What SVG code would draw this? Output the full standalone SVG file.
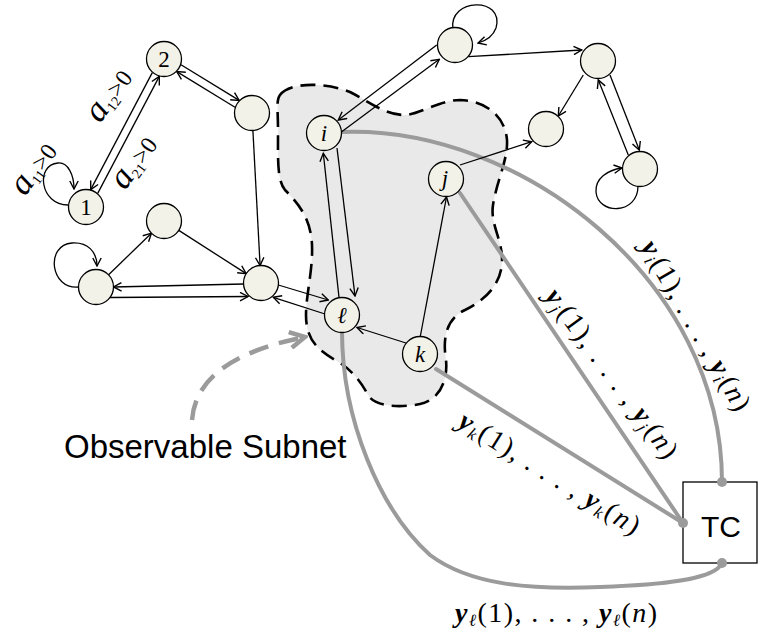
<svg xmlns="http://www.w3.org/2000/svg" width="760" height="634" viewBox="0 0 760 634">
<style>
.node circle { fill:#f3f2e9; stroke:#000; stroke-width:1.3; }
.nl { font-family:"Liberation Serif","DejaVu Serif",serif; font-size:23px; text-anchor:middle; fill:#000; }
.e { fill:none; stroke:#000; stroke-width:1.3; marker-end:url(#ah); }
.g { fill:none; stroke:#9b9b9b; stroke-width:4; stroke-linecap:round; }
.m { font-family:"Liberation Serif","DejaVu Serif",serif; font-size:28px; fill:#000; }
.b { font-weight:bold; font-style:italic; }
.it { font-style:italic; }
.sub { font-style:italic; font-size:17px; }
.sans { font-family:"Liberation Sans",Arial,sans-serif; fill:#000; }
</style>
<defs>
<marker id="ah" viewBox="0 0 10 10" refX="9" refY="5" markerWidth="10" markerHeight="10" markerUnits="userSpaceOnUse" orient="auto">
<path d="M1,0.8 L9,5 L1,9.2" fill="none" stroke="#000" stroke-width="1.4"/>
</marker>
<marker id="gah" viewBox="0 0 20 20" refX="17" refY="10" markerWidth="20" markerHeight="20" markerUnits="userSpaceOnUse" orient="auto">
<path d="M2,2 L17,10 L2,18" fill="none" stroke="#9b9b9b" stroke-width="4.5"/>
</marker>
</defs>
<rect width="760" height="634" fill="#fff"/>

<g id="subnet">
<path d="M280,95 C290,82 325,82 350,92 C370,102 385,115 405,115 C420,114 440,100 460,100 C485,101 505,115 507,140 C508,160 497,180 493,205 C490,225 503,240 502,262 C501,285 485,300 465,310 C448,318 442,335 446,360 C448,380 440,400 420,404 C400,408 375,407 368,395 C360,380 350,368 335,360 C318,350 306,340 306,315 C306,295 313,270 312,245 C311,220 300,205 285,190 C277,180 278,160 278,130 C278,110 276,100 280,95 Z" fill="#e9e9e9" stroke="#000" stroke-width="2.6" stroke-dasharray="15 8"/>
</g>

<g id="connectors">
<path class="g" d="M341,132 C520,125 722,280 722,482"/>
<path class="g" d="M460,193 L683,523"/>
<path class="g" d="M436,369 L683,523"/>
<path class="g" d="M342,331 C342,420 380,510 430,555 C470,585 530,590 600,587 C660,585 715,580 722,563"/>
<path d="M192,420 C195,380 230,352 305,337" fill="none" stroke="#9b9b9b" stroke-width="4.5" stroke-dasharray="20 11" marker-end="url(#gah)"/>

<path class="e" d="M97.7,193.4 L159.3,76.4"/>
<path class="e" d="M152.3,72.6 L90.7,189.6"/>
<path class="e" d="M68,205 C40,205 35,165 58,163 C68,162 74,175 74,189"/>
<path class="e" d="M181,64.8 L239.2,100.4"/>
<path class="e" d="M235,107.2 L176.8,71.6"/>
<path class="e" d="M252.9,130.5 L260.1,265.5"/>
<path class="e" d="M178.8,230.4 L246.2,273.6"/>
<path class="e" d="M108.6,274.8 L151.4,233.2"/>
<path class="e" d="M79,287 C50,290 45,245 72,243 C88,242 97,252 97,266"/>
<path class="e" d="M243.5,284 L113.5,287"/>
<path class="e" d="M110,297.5 L248,296.5"/>
<path class="e" d="M278.3,285 L328.3,300"/>
<path class="e" d="M325,314 L273.3,297.3"/>
<path class="e" d="M337,148 L355,296"/>
<path class="e" d="M339.5,302 L323.3,153.3"/>
<path class="e" d="M406,343 L357,327.5"/>
<path class="e" d="M420,338 L446.5,197"/>
<path class="e" d="M460,165 L531.7,141.7"/>
<path class="e" d="M341.7,131.7 L439.3,59.3"/>
<path class="e" d="M436.7,45 L338.3,120"/>
<path class="e" d="M453,29 C448,-2 505,-4 496,28 Q492,39 478,43"/>
<path class="e" d="M468.3,56.7 L581.7,50"/>
<path class="e" d="M583.3,75 L558.3,116"/>
<path class="e" d="M610,75 L639.3,150"/>
<path class="e" d="M628.3,155 L598.3,80"/>
<path class="e" d="M638,186 C638,215 598,215 596,192 C595,178 608,170 622,168"/>
</g>

<g id="n1" class="node"><circle cx="86" cy="207" r="17.5"/><text class="nl" x="86" y="215">1</text></g>
<g id="n2" class="node"><circle cx="164" cy="59" r="17.5"/><text class="nl" x="164" y="67">2</text></g>
<g id="nA" class="node"><circle cx="252" cy="113" r="17.5"/></g>
<g id="nB" class="node"><circle cx="164" cy="221" r="17.5"/></g>
<g id="nC" class="node"><circle cx="96" cy="287" r="17.5"/></g>
<g id="nD" class="node"><circle cx="261" cy="283" r="17.5"/></g>
<g id="nl" class="node"><circle cx="342" cy="315" r="17.5"/><text class="nl it" x="342" y="323" font-size="25">ℓ</text></g>
<g id="ni" class="node"><circle cx="324" cy="133" r="17.5"/><text class="nl it" x="324" y="141">i</text></g>
<g id="nj" class="node"><circle cx="446" cy="179" r="17.5"/><text class="nl it" x="445" y="186">j</text></g>
<g id="nk" class="node"><circle cx="420" cy="354" r="17.5"/><text class="nl it" x="420" y="362">k</text></g>
<g id="nE" class="node"><circle cx="455" cy="45" r="17.5"/></g>
<g id="nF" class="node"><circle cx="598" cy="61" r="17.5"/></g>
<g id="nG" class="node"><circle cx="546" cy="129" r="17.5"/></g>
<g id="nH" class="node"><circle cx="640" cy="169" r="17.5"/></g>

<g id="TC">
<rect x="683" y="482" width="74" height="81" fill="#fff" stroke="#000" stroke-width="1.3"/>
<text class="sans" x="721" y="537" font-size="30" text-anchor="middle">TC</text>
</g>
<g id="ports">
<circle cx="722" cy="482" r="5" fill="#9b9b9b"/>
<circle cx="683" cy="523" r="5" fill="#9b9b9b"/>
<circle cx="722" cy="563" r="5" fill="#9b9b9b"/>
</g>

<g id="labels">
<text class="sans" x="64" y="458" font-size="33">Observable Subnet</text>

<g transform="translate(25,197) rotate(-54)"><text class="m"><tspan class="it" font-size="35">a</tspan><tspan font-size="14" dy="4">11</tspan><tspan font-size="24" dy="-4">&gt;0</tspan></text></g>
<g transform="translate(100,124) rotate(-54)"><text class="m"><tspan class="it" font-size="35">a</tspan><tspan font-size="14" dy="4">12</tspan><tspan font-size="24" dy="-4">&gt;0</tspan></text></g>
<g transform="translate(125,191) rotate(-54)"><text class="m"><tspan class="it" font-size="35">a</tspan><tspan font-size="14" dy="4">21</tspan><tspan font-size="24" dy="-4">&gt;0</tspan></text></g>

<g transform="translate(695,326) rotate(60)"><text class="m" x="0" y="8" text-anchor="middle" textLength="192" lengthAdjust="spacing"><tspan class="b">y</tspan><tspan class="sub" dy="4">i</tspan><tspan dy="-4">(1), . . . , </tspan><tspan class="b">y</tspan><tspan class="sub" dy="4">i</tspan><tspan dy="-4">(</tspan><tspan class="it">n</tspan><tspan>)</tspan></text></g>
<g transform="translate(611,374) rotate(53.6)"><text class="m" x="0" y="8" text-anchor="middle" textLength="204" lengthAdjust="spacing"><tspan class="b">y</tspan><tspan class="sub" dy="4">j</tspan><tspan dy="-4">(1), . . . , </tspan><tspan class="b">y</tspan><tspan class="sub" dy="4">j</tspan><tspan dy="-4">(</tspan><tspan class="it">n</tspan><tspan>)</tspan></text></g>
<g transform="translate(549,474) rotate(31.8)"><text class="m" x="0" y="8" text-anchor="middle" textLength="208" lengthAdjust="spacing"><tspan class="b">y</tspan><tspan class="sub" dy="4">k</tspan><tspan dy="-4">(1), . . . , </tspan><tspan class="b">y</tspan><tspan class="sub" dy="4">k</tspan><tspan dy="-4">(</tspan><tspan class="it">n</tspan><tspan>)</tspan></text></g>
<text class="m" x="556" y="622" text-anchor="middle" textLength="202" lengthAdjust="spacing"><tspan class="b">y</tspan><tspan class="sub" dy="4">ℓ</tspan><tspan dy="-4">(1), . . . , </tspan><tspan class="b">y</tspan><tspan class="sub" dy="4">ℓ</tspan><tspan dy="-4">(</tspan><tspan class="it">n</tspan><tspan>)</tspan></text>
</g>
</svg>
